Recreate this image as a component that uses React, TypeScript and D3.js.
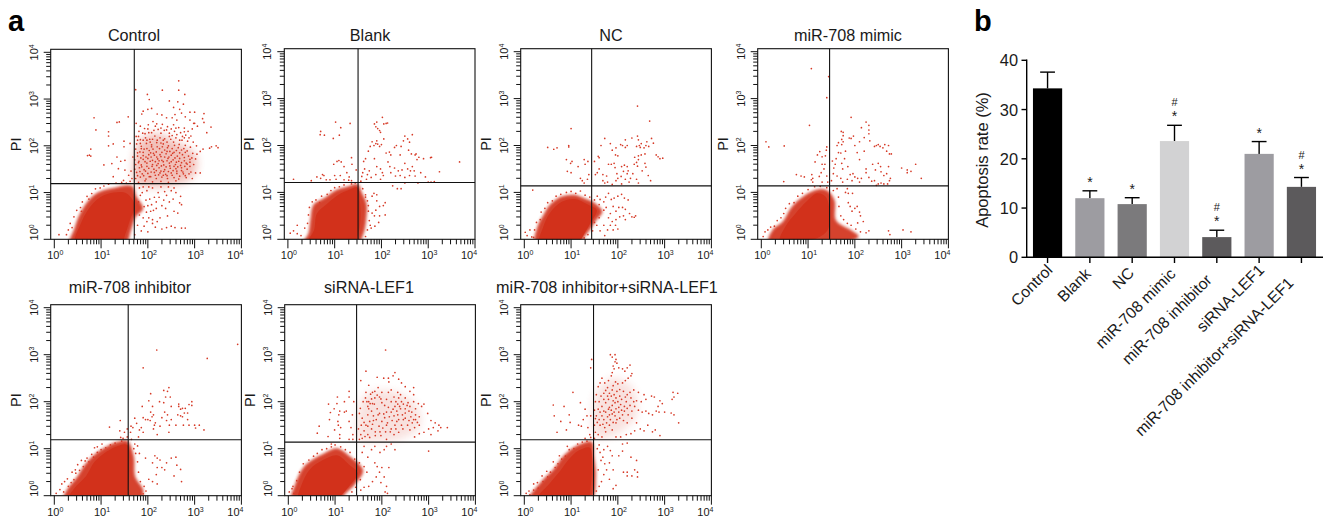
import React from "react";
import * as d3 from "d3";

type P = [number, number];

// ---------- Panel b values ----------
const barCategories = ["Control", "Blank", "NC", "miR-708 mimic", "miR-708 inhibitor", "siRNA-LEF1", "miR-708 inhibitor+siRNA-LEF1"];
const barValues = [34.3, 12.0, 10.8, 23.6, 4.1, 21.0, 14.3];
const barErrorTops = [37.6, 13.5, 12.1, 26.8, 5.5, 23.5, 16.2];
const barColors = ["#000000", "#9d9ca1", "#7b7a7c", "#d2d2d3", "#5c5a5c", "#9d9ca1", "#5c5a5c"];
const barStars = ["", "*", "*", "*", "*", "*", "*"];
const barHashes = ["", "", "", "#", "#", "", "#"];
const barTicks = [0, 10, 20, 30, 40];
const labelShift = [0, 4, 3, 4, 10, 0, 13];

// ---------- Panel a: titles and gates, log10 units ----------
const flowTitles = ["Control", "Blank", "NC", "miR-708 mimic", "miR-708 inhibitor", "siRNA-LEF1", "miR-708 inhibitor+siRNA-LEF1"];
const gateX = [1.71, 1.50, 1.44, 1.46, 1.58, 1.46, 1.48];
const gateY = [1.19, 1.21, 1.14, 1.14, 1.19, 1.14, 1.19];
const decades = [0, 1, 2, 3, 4];

// Outlines of the dense cell populations, log10 (FITC), log10 (PI)
const haloControl: P[] = [[.34,-.1],[.43,.23],[.53,.51],[.72,.82],[.93,1.0],[1.26,1.1],[1.66,1.14],[1.76,.91],[1.9,.66],[1.74,.48],[1.64,.19],[1.52,-.1]];
const coreControl: P[] = [[.45,-.1],[.56,.32],[.74,.66],[.98,.9],[1.26,1.0],[1.55,.98],[1.72,.72],[1.62,.42],[1.52,.12],[1.42,-.1]];
const haloBlank: P[] = [[.33,-.1],[.44,.13],[.48,.41],[.55,.74],[.78,.88],[1.03,1.05],[1.26,1.12],[1.5,1.17],[1.58,1.0],[1.68,.77],[1.68,.49],[1.62,.13],[1.48,-.1]];
const coreBlank: P[] = [[.42,-.1],[.56,.2],[.62,.55],[.84,.76],[1.08,.95],[1.3,1.05],[1.49,1.1],[1.54,.8],[1.55,.4],[1.5,.1],[1.4,-.1]];
const haloNC: P[] = [[.24,-.1],[.28,.27],[.42,.54],[.55,.74],[.79,.91],[1.06,.95],[1.32,.86],[1.5,.78],[1.67,.59],[1.54,.41],[1.43,.24],[1.29,.06],[1.18,-.1]];
const coreNC: P[] = [[.32,-.1],[.4,.25],[.54,.55],[.8,.8],[1.08,.86],[1.36,.74],[1.55,.62],[1.42,.36],[1.28,.12],[1.12,-.1]];
const haloMimic: P[] = [[.16,-.08],[.24,.2],[.46,.38],[.64,.68],[.85,.88],[1.08,1.02],[1.29,1.07],[1.44,1.02],[1.57,.82],[1.6,.4],[1.94,.18],[2.08,.06],[1.84,-.06]];
const coreMimic: P[] = [[.4,-.03],[.52,.28],[.74,.56],[.96,.8],[1.2,.98],[1.38,.9],[1.46,.55],[1.42,.2],[1.2,.03],[.9,-.03]];
const haloInhibitor: P[] = [[.2,-.1],[.28,.14],[.48,.39],[.66,.67],[.9,.91],[1.14,1.06],[1.34,1.14],[1.56,1.17],[1.7,.84],[1.73,.41],[1.9,.12],[1.84,-.1]];
const coreInhibitor: P[] = [[.3,-.1],[.42,.15],[.68,.42],[.86,.72],[1.12,.94],[1.36,1.06],[1.56,1.08],[1.6,.6],[1.58,.2],[1.5,-.1]];
const haloSirna: P[] = [[.08,-.1],[.15,.25],[.32,.6],[.52,.77],[.76,.9],[1.04,1.01],[1.3,.85],[1.6,.54],[1.44,.26],[1.23,.05],[1.08,-.1]];
const coreSirna: P[] = [[.22,-.1],[.28,.22],[.46,.56],[.74,.76],[1.04,.86],[1.3,.66],[1.48,.48],[1.3,.2],[1.14,.02],[1.0,-.1]];
const haloCombo: P[] = [[.1,-.1],[.37,.31],[.62,.56],[.86,.87],[1.13,1.07],[1.44,1.15],[1.49,.84],[1.53,.41],[1.42,-.1]];
const coreCombo: P[] = [[.3,-.05],[.54,.26],[.76,.52],[.94,.76],[1.16,.96],[1.4,1.02],[1.44,.6],[1.42,.2],[1.36,-.05]];

// Areas of the late-apoptotic clouds that are too busy to read event by event
const shadeControl: P[] = [[1.74,1.2],[1.72,1.8],[1.86,2.15],[2.2,2.25],[2.66,2.05],[3.02,1.8],[3.0,1.4],[2.7,1.2]];
const shadeSirna: P[] = [[1.52,1.18],[1.55,2.0],[1.76,2.2],[2.3,2.2],[2.75,1.9],[2.8,1.45],[2.3,1.18],[1.9,1.16]];
const shadeCombo: P[] = [[1.52,1.25],[1.54,2.2],[1.9,2.5],[2.3,2.3],[2.4,1.7],[2.1,1.4],[1.8,1.25]];
const shades: (P[] | null)[] = [shadeControl, null, null, null, null, shadeSirna, shadeCombo];
const shadeAlpha = [0.3, 0, 0, 0, 0, 0.14, 0.14];

// Individually visible events, log10 (FITC), log10 (PI)
const dotsControl: P[] = [
[.85,2.6],[.89,2.34],[1.16,2.3],[1.16,2.21],[1.34,2.5],[1.39,2.51],[1.58,2.62],[.78,1.93],[.75,1.8],[.71,1.79],[.78,1.78],[1.16,2],[1.26,2.04],[1.49,2.1],[1.49,1.98],[1.62,2.05],[1.06,1.59],[1.23,1.62],[1.34,1.76],[1.42,1.67],[1.51,1.69],[1.37,1.51],[1.51,1.48],[1.59,1.37],[1.64,1.46],[1.66,1.3],[1.26,1.34],[1.48,1.26],[1.62,1.24],[1.68,1.76],
[2.66,3.39],[2.31,3.19],[1.74,3.2],[2.66,3.19],[2.79,3.1],[1.99,3.1],[2.03,2.99],[2.46,2.96],[2.64,2.94],[2.76,2.89],[2.55,2.82],[2.68,2.78],[2.9,2.72],[2.72,2.7],[2.58,2.67],[3.0,2.72],[3.2,2.69],[3.17,2.58],[3.2,2.5],[2.08,2.8],[1.9,2.74],[2.0,2.78],[1.87,2.68],[2.2,2.68],[2.3,2.66],[2.4,2.6],[2.52,2.6],[2.62,2.55],[2.8,2.62],[2.9,2.55],[3.0,2.48],[3.06,2.42],[2.95,2.36],[2.98,2.48],[3.35,2.4],[3.26,2.28],[3.46,2.0],[3.5,1.96],[3.36,1.98],[3.32,1.95],[3.18,1.93],[3.12,1.88],[3.05,1.82],[3.02,1.72],
[1.75,2.48],[1.84,2.42],[1.93,2.37],[2.01,2.45],[2.11,2.52],[2.19,2.47],[2.31,2.46],[2.42,2.41],[2.55,2.45],[2.66,2.39],[2.78,2.38],[2.86,2.31],[2.92,2.21],[2.81,2.23],[2.7,2.28],[2.57,2.31],[2.46,2.27],[2.35,2.33],[2.22,2.35],[2.13,2.33],[2.02,2.28],[1.89,2.27],[1.81,2.31],[1.75,2.2],[1.84,2.13],[1.95,2.17],[2.04,2.14],[2.15,2.21],[2.26,2.17],[2.36,2.15],[2.49,2.14],[2.6,2.17],[2.73,2.12],[2.85,2.1],[2.97,2.08],[3.04,2.0],[2.91,1.97],[2.8,2.01],[2.67,2.03],[2.57,2.01],[2.44,2.0],[2.33,2.04],[2.19,2.07],[2.08,2.02],[1.97,2.05],[1.86,1.99],[1.76,2.04],[1.74,1.93],[1.83,1.87],[1.92,1.93],[2.03,1.9],[2.11,1.93],[2.25,1.94],[2.36,1.91],[2.47,1.88],[2.61,1.9],[2.72,1.91],[2.84,1.89],[2.96,1.84],[2.87,1.78],[2.74,1.81],[2.63,1.78],[2.5,1.8],[2.39,1.83],[2.26,1.81],[2.14,1.8],[2.02,1.81],[1.9,1.79],[1.78,1.78],[1.72,1.7],[1.81,1.67],[1.9,1.71],[2.0,1.73],[2.1,1.69],[2.21,1.72],[2.3,1.69],[2.43,1.73],[2.54,1.7],[2.66,1.67],[2.78,1.68],[2.9,1.71],[2.98,1.6],[2.84,1.61],[2.7,1.58],[2.59,1.6],[2.46,1.63],[2.34,1.59],[2.22,1.62],[2.1,1.6],[1.98,1.63],[1.86,1.59],[1.74,1.6],[1.72,1.5],[1.82,1.53],[1.92,1.49],[2.02,1.52],[2.13,1.5],[2.24,1.53],[2.36,1.49],[2.48,1.52],[2.6,1.51],[2.72,1.47],[2.84,1.5],[2.92,1.44],[3.02,1.42],[3.12,1.42],[2.76,1.4],[2.62,1.41],[2.5,1.42],[2.38,1.39],[2.26,1.42],[2.14,1.43],[2,1.41],[1.88,1.4],[1.76,1.43],[1.74,1.3],[1.84,1.33],[1.96,1.29],[2.06,1.34],[2.18,1.3],[2.3,1.33],[2.42,1.3],[2.56,1.32],[2.66,1.29],[2.82,1.32],[2.95,1.3],[1.8,1.22],[1.94,1.25],[2.1,1.23],[2.28,1.24],[2.44,1.22],[2.6,1.25],
[1.78,1.36],[1.83,1.45],[1.87,1.55],[1.91,1.36],[1.95,1.46],[1.98,1.56],[2.03,1.34],[2.07,1.44],[2.09,1.56],[2.16,1.37],[2.18,1.47],[2.19,1.58],[2.23,1.38],[2.28,1.46],[2.29,1.57],[2.33,1.37],[2.34,1.45],[2.39,1.55],[2.41,1.36],[2.44,1.45],[2.47,1.57],[2.52,1.37],[2.54,1.47],[2.56,1.56],[2.62,1.46],[2.64,1.55],[2.68,1.35],[2.72,1.53],[2.75,1.44],[2.79,1.56],[2.8,1.36],[2.88,1.4],[2.9,1.56],[1.8,1.64],[1.85,1.74],[1.94,1.66],[1.96,1.76],[2.05,1.67],[2.07,1.76],[2.12,1.84],[2.16,1.66],[2.19,1.76],[2.24,1.68],[2.28,1.77],[2.33,1.66],[2.36,1.76],[2.41,1.68],[2.45,1.76],[2.5,1.66],[2.53,1.84],[2.58,1.74],[2.61,1.65],[2.68,1.73],[2.72,1.64],[2.78,1.75],[2.82,1.63],[2.9,1.65],[2.94,1.74],[1.78,1.85],[1.86,1.94],[1.9,1.86],[1.98,1.94],[2.06,1.85],[2.08,1.98],[2.18,1.87],[2.2,1.98],[2.3,1.86],[2.31,1.98],[2.41,1.88],[2.42,1.96],[2.52,1.94],[2.56,1.86],[2.65,1.96],[2.68,1.85],[2.77,1.94],[2.8,1.86],[1.78,2.12],[1.84,2.05],[1.9,2.12],[1.98,2.12],[2.05,2.08],[2.1,2.14],[2.2,2.12],[2.28,2.06],[2.33,2.12],[2.41,2.08],[2.46,2.2],[2.55,2.08],[2.62,2.24],[2.68,2.12],[2.78,2.17],[2.88,2.17],[1.8,2.2],[1.94,2.26],[2.08,2.28],[2.28,2.27],[2.4,2.34],[2.52,2.22],[2.74,2.2],[2.0,2.36],[2.16,2.42],[2.28,2.38],[2.5,2.36],[2.6,2.38],[2.78,2.3],
[2.58,.25],[2.72,.24],[2.8,.24],[2.4,.25],[2.5,.28],[2.3,.22],[2.16,.26],[2.2,.38],[2.1,.42],[2.26,.46],[2.42,.5],[2.56,.6],[2.64,.56],[2.68,.78],[2.72,.74],[2.54,.86],[2.46,.8],[2.34,.84],[2.3,.72],[2.18,.66],[2.06,.6],[2.02,.46],[1.98,.38],[1.92,.28],[1.86,.18],[2.04,.86],[2.14,.9],[2.22,1.0],[2.36,1.02],[2.5,1.04],[2.6,1.0],[2.4,.94],[2.18,.8],[2.08,.74],[1.96,.84],[1.88,1.0],[1.98,1.04],[2.1,1.1],[1.82,1.1],[2.7,.92],[1.92,.7],[1.8,.8],[1.84,.94],[2.0,.72],[2.12,.62],[2.24,.9],[2.38,.66],[1.9,1.12],[2.02,1.12],[2.28,1.12],[2.44,1.12],[2.56,1.1],[1.78,.3],[1.82,.52],[1.9,.46],[1.97,.58],[2.1,.34],[2.0,.16],[1.72,.1],
[.1,.1],[.26,.1],[.3,.2],[.34,.34],[.42,.48],[.48,.62],[.56,.68],[.6,.8],[.7,.92],[.8,.98],[.88,1.08],[.98,1.1],[1.06,1.14],[1.16,1.18],[1.32,1.2],[1.44,1.22],[1.54,1.2],[.58,.6],[.74,.86],[.38,.25]];
const dotsBlank: P[] = [
[.05,.13],[.12,.18],[.2,.12],[.2,.3],[.12,1.28],[.5,1.25],[.7,1.3],[.74,1.38],[.62,1.33],[.77,1.36],[.82,1.27],[.9,1.27],[1.0,1.36],[1.03,1.28],[1.12,1.36],[1.2,1.27],[1.26,1.42],[1.31,1.33],[1.36,1.25],[1.3,1.26],[.98,1.6],[1.05,1.66],[1.09,1.68],[1.14,1.65],[1.2,1.55],[1.36,1.74],[1.37,1.6],[.7,2.3],[.69,2.23],[.78,2.22],[.97,2.15],[1.02,2.5],[1.13,2.38],[1.1,2.22],[1.33,2.47],[1.46,1.48],
[1.56,1.24],[1.58,1.34],[1.6,1.42],[1.64,1.5],[1.68,1.28],[1.7,1.38],[1.74,1.46],[1.78,1.32],[1.62,1.66],[1.66,1.72],[1.72,1.88],[1.76,1.98],[1.8,2.08],[1.84,2.0],[1.88,2.04],[1.92,2.03],[1.96,1.98],[2.0,2.02],[1.9,2.1],[1.85,2.46],[1.88,2.4],[1.9,2.5],[1.92,2.36],[1.96,2.32],[1.98,2.28],[2.02,2.6],[2.05,2.46],[2.1,2.47],[2.13,2.48],[2.05,2.14],[1.85,1.72],[1.9,1.55],[1.98,1.5],[2.04,1.36],[2.02,1.42],[1.98,1.28],[1.88,1.38],
[2.1,1.84],[2.17,1.86],[2.2,1.8],[2.14,1.65],[2.18,1.55],[2.28,1.96],[2.32,2.0],[2.42,1.98],[2.47,2.1],[2.5,2.2],[2.56,2.14],[2.6,2.07],[2.66,2.23],[2.58,1.9],[2.72,1.8],[2.74,1.82],[2.8,1.75],[2.76,1.7],[2.64,1.82],[2.4,1.8],[2.5,1.62],[2.56,1.5],[2.62,1.46],[2.66,1.55],[2.7,1.46],[2.44,1.48],[2.36,1.46],[2.28,1.52],[2.2,1.42],[2.3,1.35],[2.4,1.36],[2.5,1.32],[2.6,1.36],[2.72,1.35],[2.78,1.2],[2.84,1.42],[2.94,1.33],[3.0,1.22],[3.06,1.22],[3.13,1.23],[2.9,1.72],[3.05,1.74],[3.67,1.65],[3.24,1.44],[3.07,1.75],[2.24,1.14],[2.34,1.08],[2.42,1.08],[2.5,1.2],
[1.8,.92],[1.84,.98],[1.9,.95],[1.96,.7],[1.88,.62],[1.8,.56],[1.85,.5],[1.96,.5],[2.08,.52],[1.94,.36],[1.76,.3],[1.86,.28],[2.04,.72],[2.08,.78],[1.9,.82],[1.78,.24],[1.72,.6],[1.7,.82],[1.66,.95],
[.28,.08],[.36,.24],[.42,.34],[.44,.52],[.46,.68],[.52,.8],[.6,.84],[.68,.78],[.72,.92],[.84,.96],[.92,1.04],[1.0,1.1],[1.1,1.12],[1.2,1.16],[1.36,1.18],[1.44,1.2],[1.6,1.08],[1.66,.9],[1.72,.72],[1.74,.4],[1.7,.2],[1.66,.06]];
const dotsNC: P[] = [
[.02,.15],[.06,.08],[.12,.2],[.16,.05],[.18,1.05],[.5,1.96],[.63,1.92],[.7,1.95],[.95,1.97],[.95,2.0],[1.0,2.36],[.9,1.7],[.99,1.62],[1.02,1.66],[.92,1.45],[1.0,1.42],[1.15,1.55],[1.3,1.6],[1.28,1.7],[1.36,1.66],[1.2,1.3],[1.24,1.25],[1.35,1.28],[1.38,1.38],[1.28,1.2],
[1.52,1.38],[1.56,1.42],[1.5,1.66],[1.6,1.74],[1.58,1.77],[1.6,1.5],[1.68,1.38],[1.72,1.2],[1.76,1.35],[1.8,1.6],[1.64,2.0],[1.72,2.15],[1.84,2.04],[1.96,1.95],[1.95,1.8],[2.0,1.78],[1.88,1.9],[1.86,1.6],[1.92,1.62],[1.94,1.53],[1.98,1.4],[2.0,1.3],[2.07,1.34],[2.08,1.18],[1.96,1.25],[1.88,1.17],[1.78,1.22],[1.68,1.25],[2.12,1.45],[2.08,1.55],[2.14,1.58],[2.2,1.55],[2.22,1.46],[2.2,1.4],[2.27,1.3],[2.32,1.4],[2.35,1.6],[2.44,1.7],[2.42,1.56],[2.52,1.46],[2.58,1.62],[2.6,1.54],[2.65,1.36],[2.7,1.25],[2.4,1.28],[2.44,1.2],[2.16,1.28],[2.24,1.22],
[2.06,2.02],[2.1,2.0],[2.16,1.96],[2.2,2.0],[2.16,2.12],[2.3,2.16],[2.42,2.2],[2.44,2.12],[2.48,1.96],[2.5,2.04],[2.46,2.0],[2.4,1.98],[2.56,1.95],[2.6,2.0],[2.66,1.98],[2.62,2.08],[2.72,2.15],[2.76,2.05],[2.82,1.8],[2.9,1.72],[2.96,1.73],[2.86,1.76],[2.42,2.84],[2.68,2.52],[2.5,1.8],[2.36,1.75],[2.4,1.64],[2.44,1.78],[2.58,1.82],
[1.56,.92],[1.62,.85],[1.7,.8],[1.74,.9],[1.8,.98],[1.86,.85],[1.92,.88],[2.0,.92],[2.08,.96],[2.14,.88],[2.22,.84],[2.25,.55],[2.3,.48],[2.35,.47],[2.38,.5],[1.75,.68],[1.84,.55],[1.9,.7],[1.96,.6],[2.02,.68],[2.1,.68],[2.16,.64],[2.04,.48],[2.12,.5],[1.96,.42],[1.88,.38],[1.8,.46],[1.84,.3],[1.95,.3],[2.0,.22],[1.9,.2],[1.7,.3],[1.55,.3],[1.62,.18],[1.72,.08],[1.78,.2],[2.16,.42],
[.2,.04],[.22,.2],[.26,.36],[.34,.42],[.36,.58],[.44,.66],[.5,.78],[.6,.82],[.68,.92],[.78,.96],[.9,1.0],[1.0,1.02],[1.1,.98],[1.2,1.03],[1.3,.94],[1.4,.9],[1.5,.84],[1.6,.74],[1.7,.62],[1.6,.46],[1.5,.36],[1.46,.18],[1.36,.1],[1.28,.03]];
const dotsMimic: P[] = [
[.1,2.08],[.16,1.97],[.49,1.99],[.48,1.23],[.75,1.38],[.85,1.35],[.92,1.33],[1.07,1.27],[1.1,1.3],[1.08,1.38],[1.1,1.22],[1.03,2.43],[1.07,3.64],[1.44,3.47],[1.4,3.02],[1.15,1.65],[1.2,1.8],[1.25,1.87],[1.3,1.76],[1.37,1.78],[1.39,1.9],[1.4,1.97],[1.3,1.6],[1.36,1.6],[1.34,1.5],[1.28,1.42],[1.24,1.34],[1.4,1.35],[1.42,1.22],[1.3,1.22],
[1.5,1.25],[1.54,1.4],[1.55,1.52],[1.58,1.6],[1.52,1.67],[1.6,1.72],[1.65,1.85],[1.7,1.84],[1.72,1.62],[1.74,1.5],[1.78,1.72],[1.85,1.55],[1.62,1.35],[1.7,1.3],[1.74,1.22],[1.84,1.28],[1.9,1.38],[1.94,1.25],[1.96,1.4],[2.0,1.33],[2.06,1.3],[2.1,1.22],[2.14,1.3],[1.62,2.0],[1.65,2.06],[1.72,2.13],[1.75,2.21],[1.75,2.28],[1.71,2.3],[1.72,2.02],[1.75,2.08],[1.8,1.88],[1.88,2.16],[1.92,2.15],[1.97,2.2],[2.0,2.0],[2.05,1.85],[2.1,1.7],[2.14,2.38],[2.3,2.33],[2.3,2.25],[2.2,2.17],[2.1,2.08],[1.92,2.6],[2.24,2.5],[2.3,2.43],[2.2,1.88],[2.24,1.42],[2.24,1.5],[2.3,1.32],[2.36,1.24],[2.42,1.25],[2.46,1.15],[2.5,1.18],[2.56,1.2],[2.62,1.18],[2.7,1.18],[2.74,1.25],[2.76,1.3],[2.62,1.36],[2.56,1.44],[2.44,1.48],[2.38,1.6],[2.5,1.62],[2.55,1.55],[2.68,1.4],[2.72,1.55],
[2.32,2.1],[2.42,1.98],[2.46,2.0],[2.5,2.02],[2.54,1.98],[2.6,1.95],[2.64,2.02],[2.72,2.0],[2.68,1.88],[2.74,1.82],[2.78,1.82],[3.0,1.52],[3.12,1.48],[3.12,1.42],[3.3,1.6],[3.42,1.3],[3.2,1.45],
[1.8,1.0],[1.86,.98],[1.84,1.08],[1.95,.98],[1.62,1.08],[1.65,.9],[1.86,.78],[1.9,.7],[1.94,.6],[2.0,.66],[2.05,.7],[2.1,.58],[2.12,.5],[2.18,.38],[2.06,.35],[2.24,.14],[2.3,.18],[2.72,.18],[2.75,.1],[3.03,.2],[3.2,.16],
[.04,.06],[.08,.16],[.14,.2],[.2,.26],[.28,.28],[.34,.4],[.42,.46],[.48,.55],[.52,.66],[.6,.76],[.7,.78],[.78,.92],[.88,.98],[1.0,1.06],[1.14,1.12],[1.26,1.13],[1.4,1.1],[1.54,1.04],[1.66,.7],[1.7,.5],[1.76,.42],[1.84,.34],[1.92,.3],[2.02,.22],[2.12,.16]];
const dotsInhibitor: P[] = [
[.04,.05],[.12,.13],[.16,.25],[.22,.3],[.28,.36],[.38,.5],[.45,.55],[.5,.66],[.58,.75],[.7,.8],[.8,.88],[.86,1.02],[.92,1.04],[1.02,1.1],[1.18,1.46],[1.4,1.38],[1.42,1.24],[1.5,1.35],[1.56,1.42],[1.41,1.6],[1.56,1.25],[1.47,1.22],
[1.63,1.35],[1.64,1.48],[1.65,1.2],[1.68,1.45],[1.72,1.65],[1.76,1.54],[1.8,1.25],[1.82,1.4],[1.86,1.45],[1.9,1.66],[1.9,1.35],[1.88,1.9],[1.95,1.62],[2.0,1.62],[2.05,1.6],[2.06,1.78],[2.09,1.68],[2.12,1.72],[2.06,2.17],[2.1,1.9],[2.02,2.02],[2.14,1.5],[2.16,1.55],[2.2,1.3],[2.12,1.42],[2.26,1.48],[2.3,1.66],[2.36,1.78],[2.34,1.98],[2.4,1.6],[2.42,1.72],[2.45,1.35],[2.46,1.5],[2.5,1.62],[2.5,1.9],[2.38,2.1],[2.34,2.24],[2.42,2.22],[2.45,2.3],[2.48,2.1],[2.66,1.9],[2.7,1.84],[2.74,1.86],[2.8,1.86],[2.78,1.76],[2.74,1.68],[2.7,1.7],[2.85,1.76],[2.64,1.72],[2.6,1.5],[2.66,1.95],[2.94,2.0],[2.94,1.92],[2.88,1.94],[2.76,1.5],[2.85,1.62],[2.88,1.5],[3.0,1.5],[3.02,1.44],[3.1,1.5],[3.2,1.4],[2.25,2.0],[2.19,3.1],[1.9,2.72],[3.27,2.92],[3.92,3.22],
[1.78,1.06],[1.72,1.1],[1.7,1.0],[1.82,.9],[2.15,.85],[2.2,.8],[2.2,.6],[2.26,.76],[2.1,.7],[1.95,.8],[2.3,.6],[2.36,.55],[2.5,.8],[2.6,.82],[2.62,.65],[2.4,.7],[2.56,.42],[2.7,.56],[2.72,.3],[2.1,.3],[2.18,.45],[2.2,.25],[2.02,.35],
[.2,.08],[.3,.2],[.36,.28],[.42,.34],[.46,.48],[.54,.54],[.62,.62],[.66,.74],[.74,.72],[.84,.82],[.92,.92],[1.0,.98],[1.1,1.02],[1.2,1.08],[1.3,1.12],[1.44,1.16],[1.74,.9],[1.78,.72],[1.8,.5],[1.84,.3],[1.92,.2],[1.96,.1],[1.9,.04]];
const dotsSirna: P[] = [
[.02,.08],[.08,.15],[.12,.05],[.62,1.33],[.66,1.48],[.85,1.26],[.92,1.1],[.99,1.4],[.88,1.62],[.9,1.77],[.98,1.85],[.86,1.95],[1.04,1.96],[1.05,2.1],[1.08,1.72],[1.1,1.8],[1.07,1.5],[1.12,1.45],[1.06,1.58],[1.2,1.78],[1.24,1.8],[1.3,1.58],[1.34,1.45],[1.37,1.72],[1.4,2.0],[1.3,2.22],[1.3,2.1],[1.2,2.0],[1.1,1.3],[1.1,1.22],[1.3,1.2],[1.38,1.3],[1.38,1.2],
[1.52,1.2],[1.55,1.3],[1.5,1.42],[1.56,1.5],[1.58,1.65],[1.52,1.75],[1.54,1.86],[1.6,2.0],[1.65,2.08],[1.68,2.0],[1.7,1.9],[1.72,1.85],[1.76,2.16],[1.8,2.2],[1.85,2.22],[1.9,2.14],[1.95,2.1],[1.98,2.06],[2.0,1.98],[1.85,2.08],[1.78,2.06],[1.75,1.96],[1.7,1.72],[1.78,1.8],[1.84,1.95],[1.9,1.85],[1.95,1.75],[1.88,1.62],[1.82,1.6],[1.74,1.58],[1.66,1.5],[1.62,1.38],[1.7,1.3],[1.78,1.42],[1.86,1.36],[1.94,1.48],[2.0,1.58],[2.06,1.66],[2.1,1.78],[2.14,1.88],[2.2,2.0],[2.26,2.1],[2.2,2.25],[2.15,2.42],[2.14,2.5],[2.04,2.5],[1.66,2.65],[1.55,2.45],[1.72,2.35],[1.9,2.52],[2.08,3.1],[2.24,2.55],[2.28,2.62],[2.36,2.48],[2.42,2.4],[2.5,2.32],[2.6,2.22],[2.68,2.15],[2.68,2.3],[2.56,1.98],[2.5,1.85],[2.44,1.72],[2.36,1.62],[2.28,1.5],[2.2,1.42],[2.08,1.36],[1.98,1.28],[2.1,1.2],[2.26,1.3],[2.36,1.35],[2.45,1.42],[2.55,1.5],[2.65,1.55],[2.72,1.62],[2.8,1.68],[2.72,1.85],[2.78,1.96],[2.68,2.0],[2.58,1.8],[2.46,1.95],[2.36,2.08],[2.28,1.9],[2.2,1.78],[2.12,1.55],[2.32,1.8],[2.42,2.0],[2.5,2.08],[2.6,1.9],[2.34,1.95],[2.3,2.0],[2.4,1.85],[2.26,1.7],[2.5,1.65],[2.62,1.68],[2.7,1.45],[2.85,1.9],[2.9,1.95],[2.72,1.72],[3.0,1.42],[3.2,1.38],[3.1,1.45],[3.22,1.5],[3.05,1.3],[2.9,1.35],[2.8,1.32],[2.7,1.25],[3.4,1.45],[3.26,1.45],[3.14,1.55],[3.05,1.6],[2.98,1.75],
[1.58,1.22],[1.62,1.56],[1.64,1.26],[1.7,1.48],[1.74,1.24],[1.8,1.52],[1.82,1.7],[1.86,1.28],[1.92,1.72],[1.96,1.36],[2.02,1.44],[2.04,1.74],[2.06,1.92],[2.1,1.5],[2.16,1.68],[2.18,1.36],[2.22,1.6],[2.24,1.84],[2.3,1.42],[2.32,1.58],[2.34,1.72],[2.38,1.9],[2.42,1.5],[2.46,1.62],[2.5,1.76],[2.54,1.92],[2.58,1.6],[2.6,1.4],[2.64,1.78],[2.68,1.62],[2.76,1.56],[2.8,1.5],[1.66,2.2],[1.72,2.0],[1.8,1.96],[1.92,2.3],[2.0,2.2],[2.1,2.05],[2.14,2.2],[2.34,2.2],[2.4,2.15],
[1.62,1.05],[1.58,.92],[1.7,.82],[1.78,.98],[1.85,1.05],[1.96,.92],[2.05,.98],[2.1,1.05],[2.2,1.1],[2.28,.98],[1.85,.7],[1.9,.62],[1.95,.5],[1.88,.4],[1.8,.3],[1.72,.2],[2.05,.4],[2.0,.6],[1.98,.28],[2.1,.2],[2.07,.08],[2.12,.05],[3.0,.95],[2.15,.6],[1.62,.18],[1.55,.12],
[.1,.2],[.18,.32],[.24,.5],[.32,.68],[.44,.76],[.54,.84],[.62,.9],[.72,.98],[.82,1.0],[.92,1.04],[1.0,1.08],[1.12,1.04],[1.22,.98],[1.32,.92],[1.42,.78],[1.52,.7],[1.62,.62],[1.68,.5],[1.54,.34],[1.44,.18],[1.36,.08]];
const dotsCombo: P[] = [
[.04,.05],[.1,.1],[.2,.25],[.28,.28],[.38,.42],[.48,.52],[.62,.72],[.75,.85],[.92,1.05],[1.04,2.2],[.85,1.9],[.62,1.93],[.64,1.7],[.78,1.58],[.7,1.35],[.9,1.4],[.98,1.56],[.96,1.72],[1.16,1.5],[1.22,1.48],[1.26,1.62],[1.34,1.7],[1.3,1.84],[1.2,1.98],[1.42,1.7],[1.36,1.45],[1.4,1.3],[1.3,1.22],[1.42,1.24],[1.42,2.72],[1.44,2.9],
[1.5,1.22],[1.52,1.35],[1.5,1.5],[1.52,1.64],[1.5,1.82],[1.52,2.0],[1.54,2.15],[1.58,2.32],[1.62,2.4],[1.66,2.5],[1.72,2.4],[1.78,2.3],[1.8,2.45],[1.86,2.55],[1.88,2.62],[1.92,2.7],[1.9,2.76],[1.94,2.85],[1.84,3.0],[1.88,2.95],[1.94,3.0],[1.96,2.9],[1.98,2.82],[2.02,2.72],[2.1,2.7],[2.15,2.65],[2.2,2.72],[2.26,2.78],[2.3,2.6],[2.28,2.55],[2.22,2.5],[2.16,2.45],[2.1,2.4],[2.0,2.38],[1.95,2.42],[1.88,2.25],[1.82,2.18],[1.7,2.18],[1.64,2.12],[1.6,2.0],[1.66,1.9],[1.74,1.98],[1.8,2.05],[1.86,2.12],[1.92,2.15],[1.98,2.22],[2.04,2.26],[2.12,2.22],[2.2,2.15],[2.26,2.2],[2.34,2.25],[2.44,2.2],[2.56,2.15],[2.72,2.12],[2.78,2.1],[2.6,2.05],[2.5,2.0],[2.4,2.02],[2.28,2.08],[2.18,2.0],[2.08,2.05],[2,2.0],[1.94,1.98],[1.88,1.92],[1.82,1.88],[1.74,1.78],[1.66,1.7],[1.6,1.62],[1.54,1.7],[1.62,1.5],[1.7,1.62],[1.76,1.55],[1.82,1.72],[1.88,1.74],[1.92,1.78],[1.96,1.85],[2.02,1.88],[2.08,1.82],[2.14,1.9],[2.2,1.86],[2.26,1.92],[2.36,1.9],[2.44,1.82],[2.52,1.78],[2.6,1.8],[2.66,1.75],[2.74,1.72],[2.82,1.8],[2.88,1.78],[3,1.78],[3.14,1.76],[3.2,1.72],[3.3,1.55],[3.2,2.1],[3.18,2.2],[3.28,2.18],[3.16,2.05],[2.95,1.96],[2.9,2.02],[2.86,1.9],[1.58,1.3],[1.66,1.25],[1.74,1.36],[1.82,1.5],[1.88,1.4],[1.96,1.55],[2.04,1.65],[2.12,1.6],[2.2,1.55],[2.3,1.65],[2.4,1.55],[2.48,1.42],[2.56,1.38],[2.64,1.5],[2.74,1.36],[2.8,1.4],[2.9,1.28],[2.36,1.38],[2.28,1.32],[2.18,1.3],[2.06,1.25],[1.96,1.25],
[1.56,1.56],[1.58,1.84],[1.62,1.78],[1.68,1.52],[1.7,1.8],[1.72,1.45],[1.78,1.68],[1.8,1.84],[1.84,1.62],[1.86,1.82],[1.9,1.56],[1.94,1.7],[1.98,1.62],[2.02,1.78],[2.06,1.94],[2.1,1.72],[2.14,1.8],[2.16,2.1],[1.96,2.08],[1.9,2.02],[1.78,2.12],[1.7,2.05],[2.04,2.12],[2.22,1.72],[2.3,1.8],[2.34,2.0],[1.74,2.24],[1.9,2.34],
[1.56,1.0],[1.62,.92],[1.7,.98],[1.78,1.05],[1.84,.96],[1.88,.85],[1.82,.7],[1.76,.55],[1.7,.45],[1.65,.3],[1.82,.35],[1.9,.15],[1.96,.22],[1.58,.55],[1.64,.75],[1.9,.55],[2.02,.85],[2.1,.95],[2.1,1.1],[2.2,1.12],[2.4,.75],[2.28,.82],[2.36,.55],[2.42,.5],[2.2,.5],[2.12,.5],[2.3,.42],[2.42,.4],[2.2,.42],[1.6,1.08],[1.68,.82],[1.72,.68],[1.6,.2],[1.54,.1],
[.12,.02],[.2,.12],[.3,.16],[.4,.3],[.5,.4],[.56,.5],[.66,.6],[.72,.68],[.8,.78],[.88,.84],[.96,.98],[1.06,1.0],[1.14,1.1],[1.24,1.14],[1.34,1.16]];

const haloes = [haloControl, haloBlank, haloNC, haloMimic, haloInhibitor, haloSirna, haloCombo];
const cores = [coreControl, coreBlank, coreNC, coreMimic, coreInhibitor, coreSirna, coreCombo];
const dots = [dotsControl, dotsBlank, dotsNC, dotsMimic, dotsInhibitor, dotsSirna, dotsCombo];

const FONT = "'Liberation Sans', Arial, sans-serif";
const RED = "#d2311b";
const INK = "#1a1a1a";

// Layout of the flow panels
const frames = [
  { l: 50.7, t: 49.3, b: 239.3, tx: 134, ty: 40.7 },
  { l: 284.3, t: 48.7, b: 239.3, tx: 370, ty: 40.7 },
  { l: 520.7, t: 48.7, b: 239.3, tx: 611, ty: 40.7 },
  { l: 757.7, t: 48.7, b: 239.3, tx: 848, ty: 40.7 },
  { l: 50.7, t: 304.7, b: 495.7, tx: 130, ty: 293.3 },
  { l: 284.7, t: 304.7, b: 495.7, tx: 369, ty: 293.3 },
  { l: 520.7, t: 304.7, b: 495.7, tx: 607, ty: 293.3 },
];
const FW = 190.7;

const minorSteps = d3.range(2, 10);

function Ten({ e, x, y, rotate }: { e: number; x: number; y: number; rotate?: boolean }) {
  return (
    <text x={x} y={y} textAnchor="middle" fontFamily={FONT} fontSize={11} fill={INK}
      transform={rotate ? `rotate(-90 ${x} ${y})` : undefined}>
      10<tspan fontSize={7} dy={-4}>{e}</tspan>
    </text>
  );
}

function FlowPanel({ i }: { i: number }) {
  const f = frames[i];
  const x = d3.scaleLinear().domain([0, 4]).range([f.l + 3.6, f.l + FW]);
  const y = d3.scaleLinear().domain([0, 4]).range([f.b, f.t + 3]);
  const blob = d3.line<P>().x((d) => x(d[0])).y((d) => y(d[1])).curve(d3.curveCatmullRomClosed.alpha(0.5));
  const clip = `clip-${i}`;
  const minors = decades.slice(0, 4).flatMap((d) => minorSteps.map((m) => d + Math.log10(m)));
  const shade = shades[i];
  return (
    <g>
      <defs>
        <clipPath id={clip}><rect x={f.l} y={f.t} width={FW} height={f.b - f.t} /></clipPath>
      </defs>
      <g clipPath={`url(#${clip})`}>
        {shade && <path d={blob(shade) ?? ""} fill={RED} opacity={shadeAlpha[i]} filter="url(#soft)" />}
        <path d={blob(haloes[i]) ?? ""} fill={RED} opacity={0.92} filter="url(#edge)" />
        <path d={blob(cores[i]) ?? ""} fill={RED} />
        {dots[i].map((d, k) => (
          <circle key={k} cx={x(d[0])} cy={y(d[1])} r={0.85} fill="#d63a27" />
        ))}
      </g>
      <rect x={f.l} y={f.t} width={FW} height={f.b - f.t} fill="none" stroke="#111" strokeWidth={1.1} />
      <line x1={x(gateX[i])} x2={x(gateX[i])} y1={f.t} y2={f.b} stroke="#111" strokeWidth={1.1} />
      <line x1={f.l} x2={f.l + FW} y1={y(gateY[i])} y2={y(gateY[i])} stroke="#111" strokeWidth={1.1} />
      {decades.map((d) => (
        <g key={d}>
          <line x1={x(d)} x2={x(d)} y1={f.b} y2={f.b + 9} stroke="#111" />
          <line x1={f.l - 7} x2={f.l} y1={y(d)} y2={y(d)} stroke="#111" />
          <Ten e={d} x={x(d) + (d === 4 ? -6 : 1)} y={f.b + 19.8} />
          <Ten e={d} x={f.l - 13} y={y(d) + (d === 0 ? -7 : 0)} rotate />
        </g>
      ))}
      {minors.map((m) => (
        <g key={m}>
          <line x1={x(m)} x2={x(m)} y1={f.b} y2={f.b + 5} stroke="#111" />
          <line x1={f.l - 4.5} x2={f.l} y1={y(m)} y2={y(m)} stroke="#111" />
        </g>
      ))}
      <text x={f.tx} y={f.ty} textAnchor="middle" fontFamily={FONT} fontSize={16.2} fill={INK}>{flowTitles[i]}</text>
      <text transform={`translate(${f.l - 30} ${(f.t + f.b) / 2}) rotate(-90)`} textAnchor="middle"
        fontFamily={FONT} fontSize={14.5} fill={INK}>PI</text>
    </g>
  );
}

function BarPanel() {
  const x = d3.scaleBand().domain(barCategories).range([1026.4, 1322.6]).paddingInner(0.31).paddingOuter(0.155);
  const y = d3.scaleLinear().domain([0, 40]).range([257.3, 60.3]);
  return (
    <g fontFamily={FONT} fill={INK}>
      {barCategories.map((c, i) => {
        const cx = (x(c) ?? 0) + x.bandwidth() / 2;
        const top = y(barErrorTops[i]);
        return (
          <g key={c}>
            <line x1={cx} x2={cx} y1={y(barValues[i])} y2={top} stroke="#000" strokeWidth={1.4} />
            <line x1={cx - 7.4} x2={cx + 7.4} y1={top} y2={top} stroke="#000" strokeWidth={1.4} />
            <rect x={x(c)} y={y(barValues[i])} width={x.bandwidth()} height={y(0) - y(barValues[i])} fill={barColors[i]} />
            <line x1={cx} x2={cx} y1={257.3} y2={263} stroke="#000" strokeWidth={1.4} />
            <text x={cx} y={top - 4} textAnchor="middle" fontSize={14}>{barStars[i]}</text>
            <text x={cx} y={top - 19} textAnchor="middle" fontSize={11}>{barHashes[i]}</text>
            <text transform={`translate(${cx + 6 - labelShift[i]} ${271 + labelShift[i]}) rotate(-45)`} textAnchor="end" fontSize={15.8}>{c}</text>
          </g>
        );
      })}
      <line x1={1026.7} x2={1026.7} y1={59.6} y2={258} stroke="#000" strokeWidth={1.4} />
      <line x1={1026} x2={1323} y1={257.3} y2={257.3} stroke="#000" strokeWidth={1.4} />
      {barTicks.map((t) => (
        <g key={t}>
          <line x1={1021.5} x2={1026.7} y1={y(t)} y2={y(t)} stroke="#000" strokeWidth={1.4} />
          <text x={1018} y={y(t) + 6} textAnchor="end" fontSize={16.4}>{t}</text>
        </g>
      ))}
      <text transform="translate(988 160) rotate(-90)" textAnchor="middle" fontSize={16.5}>Apoptosis rate (%)</text>
    </g>
  );
}

export default function App() {
  return (
    <svg width={1323} height={516} style={{ position: "absolute", left: 0, top: 0, background: "#fff" }}>
      <defs>
        <filter id="edge" x="-10%" y="-10%" width="120%" height="120%"><feGaussianBlur stdDeviation={1.6} /></filter>
        <filter id="soft" x="-20%" y="-20%" width="140%" height="140%"><feGaussianBlur stdDeviation={4} /></filter>
      </defs>
      <text x={8} y={31} fontFamily={FONT} fontWeight={700} fontSize={29} fill="#000">a</text>
      <text x={974} y={31} fontFamily={FONT} fontWeight={700} fontSize={29} fill="#000">b</text>
      {frames.map((_, i) => <FlowPanel key={i} i={i} />)}
      <BarPanel />
    </svg>
  );
}
